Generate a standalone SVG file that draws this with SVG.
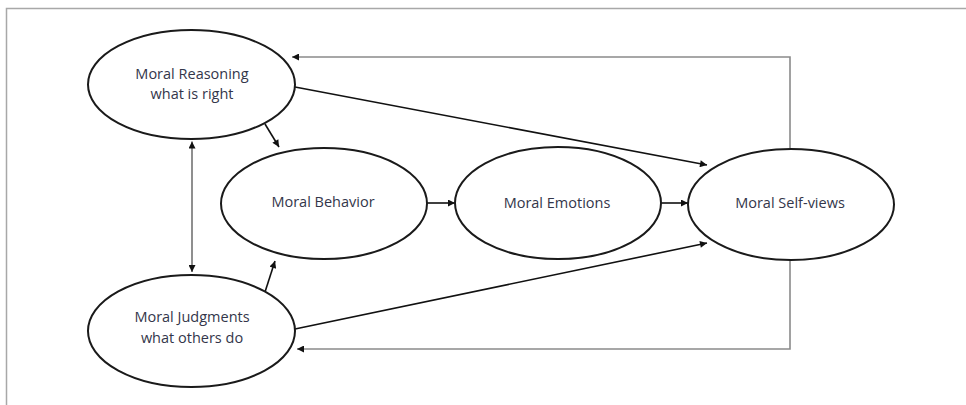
<svg xmlns="http://www.w3.org/2000/svg" width="966" height="405" viewBox="0 0 966 405">
<style>
.node ellipse{fill:#fff;stroke:#1a1a1a;stroke-width:2}
.node text{font-family:"Open Sans","Liberation Sans",sans-serif;font-size:14.5px;fill:#33364a;text-anchor:middle;dominant-baseline:central}
.c{stroke:#111;stroke-width:1.6;fill:none}
.fb{stroke:#8a8a8a;stroke-width:1.6;fill:none}
.thin{stroke:#333;stroke-width:1.1;fill:none}
</style>
<defs>
<marker id="ah" viewBox="0 0 10 10" refX="10" refY="5" markerWidth="8" markerHeight="7" markerUnits="userSpaceOnUse" orient="auto-start-reverse">
<path d="M0,0 L10,5 L0,10 z" fill="#111"/>
</marker>
</defs>
<rect width="966" height="405" fill="#fff"/>
<g id="frame" fill="none" stroke="#a8a8a8" stroke-width="1.5">
<path d="M6.5,405 V8.5 H966"/>
</g>
<g id="connectors">
<path class="fb" d="M790,148 V57 H292" marker-end="url(#ah)"/>
<path class="fb" d="M790,260 V349 H297" marker-end="url(#ah)"/>
<path class="thin" d="M192,141.5 V272" marker-start="url(#ah)" marker-end="url(#ah)"/>
<path class="c" d="M265,124 L279,147" marker-end="url(#ah)"/>
<path class="c" d="M265,292 L275,261" marker-end="url(#ah)"/>
<path class="c" d="M295,87 L707,165" marker-end="url(#ah)"/>
<path class="c" d="M295,329 L707,243" marker-end="url(#ah)"/>
<path class="c" d="M427,203 H455" marker-end="url(#ah)"/>
<path class="c" d="M661,203 H688" marker-end="url(#ah)"/>
</g>
<g id="moral-reasoning" class="node">
<ellipse cx="191.5" cy="84.5" rx="103.5" ry="54.5"/>
<text x="192" y="73">Moral Reasoning</text>
<text x="192" y="93">what is right</text>
</g>
<g id="moral-judgments" class="node">
<ellipse cx="191.5" cy="331" rx="103.5" ry="56"/>
<text x="192" y="316">Moral Judgments</text>
<text x="192" y="337">what others do</text>
</g>
<g id="moral-behavior" class="node">
<ellipse cx="324" cy="203.5" rx="103" ry="55.5"/>
<text x="323" y="201">Moral Behavior</text>
</g>
<g id="moral-emotions" class="node">
<ellipse cx="558" cy="203" rx="103" ry="56"/>
<text x="557" y="202">Moral Emotions</text>
</g>
<g id="moral-self-views" class="node">
<ellipse cx="791" cy="204.5" rx="103" ry="55.5"/>
<text x="790" y="202">Moral Self-views</text>
</g>
</svg>
